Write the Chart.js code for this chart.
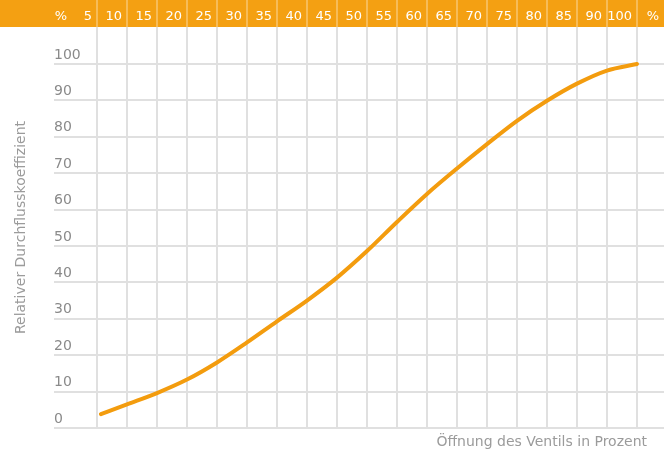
<!DOCTYPE html>
<html lang="de">
<head>
  <meta charset="UTF-8" />
  <title>Durchflusskennlinie Ventil</title>
  <script src="https://cdn.jsdelivr.net/npm/chart.js"></script>
  <style>
    html, body { margin: 0; padding: 0; background: #fff; }
    .chart-box { width: 664px; height: 457px; position: relative; }
  </style>
</head>
<body>
  <div class="chart-box"><canvas id="valveChart"></canvas></div>

  <script>
    // Kopfzeile: Öffnung in %, jede Spalte endet an einer Gitterlinie
    const headerLabels = ['5', '10', '15', '20', '25', '30', '35', '40', '45', '50',
                          '55', '60', '65', '70', '75', '80', '85', '90', '100'];
    const unitLabel = '%';

    // Kurve: Spalte im Raster (0 = Linie nach "5") und relativer Kv-Wert
    const curveCol = [0.13, 1, 2, 3, 4, 5, 6, 7, 8, 9, 10, 11, 12, 13, 14, 15, 16, 17, 18];
    const curveKv  = [3.8, 6.5, 9.6, 13.3, 18.0, 23.5, 29.3, 35.0, 41.3, 48.6,
                      56.6, 64.3, 71.3, 78.0, 84.4, 89.9, 94.6, 98.2, 100];

    const yTickValues = [0, 10, 20, 30, 40, 50, 60, 70, 80, 90, 100];

    const xTitle = 'Öffnung des Ventils in Prozent';
    const yTitle = 'Relativer Durchflusskoeffizient';

    const ORANGE = '#f4a012';
    const LINE_ORANGE = '#f39c0e';
    const GRID = '#e0e0e0';

    const colMin = -43 / 30;
    const colMax = colMin + 610 / 30;

    Chart.defaults.font.family = "'DejaVu Sans', sans-serif";

    const headerPlugin = {
      id: 'headerBand',
      beforeDraw(chart) {
        const { ctx, chartArea, scales } = chart;
        ctx.save();
        ctx.fillStyle = ORANGE;
        ctx.fillRect(0, 0, chart.width, chartArea.top);
        ctx.strokeStyle = 'rgba(255,255,255,0.4)';
        ctx.lineWidth = 1.5;
        headerLabels.forEach((_, i) => {
          const px = Math.round(scales.x.getPixelForValue(i));
          ctx.beginPath();
          ctx.moveTo(px, 0);
          ctx.lineTo(px, chartArea.top);
          ctx.stroke();
        });
        ctx.restore();
      },
      afterDraw(chart) {
        const { ctx, chartArea } = chart;
        ctx.save();
        ctx.font = "14px 'DejaVu Sans', sans-serif";
        ctx.fillStyle = '#9b9b9b';
        ctx.textAlign = 'right';
        ctx.textBaseline = 'middle';
        ctx.fillText(xTitle, chartArea.right - 17, chartArea.bottom + 14);
        ctx.restore();
      }
    };

    new Chart(document.getElementById('valveChart'), {
      type: 'line',
      data: {
        datasets: [{
          data: curveCol.map((c, i) => ({ x: c, y: curveKv[i] })),
          borderColor: LINE_ORANGE,
          borderWidth: 4,
          borderCapStyle: 'round',
          pointRadius: 0,
          cubicInterpolationMode: 'monotone',
          xAxisID: 'x',
          yAxisID: 'y'
        }]
      },
      options: {
        responsive: true,
        maintainAspectRatio: false,
        animation: false,
        layout: { padding: { top: 5.6, left: 12.6, right: 0, bottom: 29 } },
        plugins: { legend: { display: false }, tooltip: { enabled: false } },
        scales: {
          x: {
            type: 'linear',
            position: 'bottom',
            min: colMin,
            max: colMax,
            afterBuildTicks: axis => {
              axis.ticks = headerLabels.map((_, i) => ({ value: i }));
            },
            grid: { color: GRID, lineWidth: 2, drawTicks: false },
            border: { display: false },
            ticks: { display: false }
          },
          xTop: {
            type: 'linear',
            position: 'top',
            min: colMin,
            max: colMax,
            afterBuildTicks: axis => {
              axis.ticks = [{ value: -0.83 }]
                .concat(headerLabels.map((_, i) => ({ value: i })))
                .concat([{ value: 18.9 }]);
            },
            grid: { display: false, drawTicks: false },
            border: { display: false },
            ticks: {
              autoSkip: false,
              maxRotation: 0,
              align: 'end',
              labelOffset: -5,
              padding: 0,
              color: '#ffffff',
              font: { size: 13, lineHeight: 1.646 },
              callback: (value, index) =>
                (index === 0 || index === headerLabels.length + 1) ? unitLabel : headerLabels[index - 1]
            }
          },
          y: {
            type: 'linear',
            position: 'left',
            min: 0,
            max: 110.16,
            afterBuildTicks: axis => {
              axis.ticks = yTickValues.map(v => ({ value: v }));
            },
            grid: { color: GRID, lineWidth: 2, drawTicks: false },
            border: { display: false },
            ticks: {
              mirror: true,
              padding: 0,
              labelOffset: -9,
              color: '#8a8a8a',
              font: { size: 14 }
            },
            title: {
              display: true,
              text: yTitle,
              color: '#9b9b9b',
              font: { size: 14 },
              padding: { top: 0, bottom: 24.6 }
            }
          }
        }
      },
      plugins: [headerPlugin]
    });
  </script>
</body>
</html>
